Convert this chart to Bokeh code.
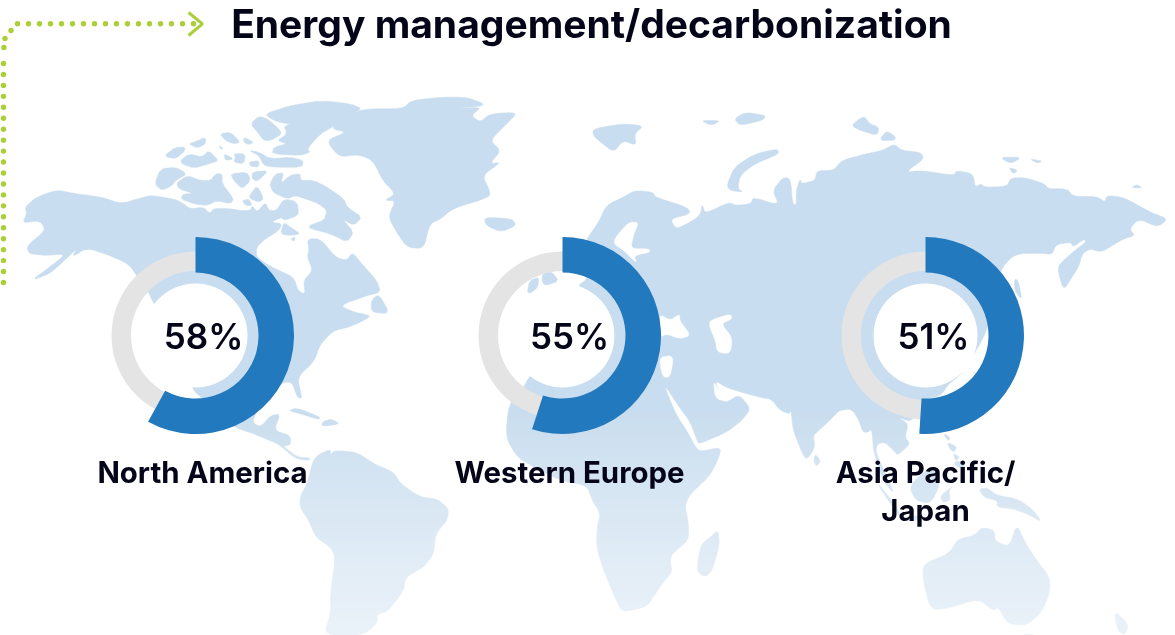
from bokeh.plotting import figure
from bokeh.models import Range1d
from bokeh.core.properties import value
from bokeh.embed import file_html
from bokeh.resources import INLINE
import numpy as np

# ---------- chart values ----------
TITLE = "Energy management/decarbonization"
regions = ["North America", "Western Europe", "Asia Pacific/\nJapan"]
percent = [58, 55, 51]
labels = ["58%", "55%", "51%"]
center_x = [195, 562, 925]
label_x = [202, 569, 925]
CY = 335
INK, BLUE, GREY, LAND, GREEN = "#05051a", "#2279bd", "#e4e4e4", "#c8ddef", "#abcf37"

def z1(pts): return [(x / 2.657, y / 3) for x, y in pts]
def z2(pts): return [(585 + x / 2.657, 90 + y / 3) for x, y in pts]
def z3(pts): return [(100 + x / 3, 320 + y / 3) for x, y in pts]
def z4(pts): return [(600 + x / 2.727, 380 + y / 3) for x, y in pts]
def z5(pts): return [(150 + x / 3, 95 + y / 3) for x, y in pts]
def z6(pts): return [(500 + x / 3, 180 + y / 3) for x, y in pts]
def z7(pts): return [(840 + x / 3, 400 + y / 3) for x, y in pts]

def soft(pts, n=2):
    """Round off the corners of a traced outline."""
    for _ in range(n):
        out = []
        for i, (a, b) in enumerate(pts):
            c, d = pts[(i + 1) % len(pts)]
            out += [(0.8 * a + 0.2 * c, 0.8 * b + 0.2 * d), (0.2 * a + 0.8 * c, 0.2 * b + 0.8 * d)]
        pts = out
    return pts

america = z1([(58,668),(70,640),(65,620),(95,590),(150,568),(190,578),(270,590),(320,610),(380,590),(400,585),(440,592)]) + z5([(75,312),(103,327),(118,340),(160,335),(178,355),(190,338),(240,340),(270,345),(300,345),(305,330),(320,350),(345,320),(355,345),(378,345),(400,310),(440,318),(445,360),(400,375),(395,365),(360,380),(395,385),(385,405),(345,430)]) + z1([(680,740),(680,770),(720,800),(780,830),(790,870),(810,882),(805,840),(830,810),(815,770),(820,745),(815,715),(850,715),(890,770),(920,780),(935,755),(960,790),(1000,840),(1010,875),(975,885),(900,915),(940,935),(985,945)]) + z3([(790,0),(745,20),(700,30),(660,70),(640,125),(590,170),(605,235),(590,230),(575,185),(545,185),(470,270),(455,305),(480,320),(510,285),(540,280),(520,330),(570,345),(570,375),(545,375),(590,410),(630,412),(625,420),(585,415),(540,375),(520,365),(460,340),(400,320),(350,270),(300,230),(275,205)]) + z1([(395,875),(365,830),(340,790),(290,765),(230,742),(190,770),(205,742),(165,785),(130,820),(82,840),(130,800),(175,760),(120,765),(75,760),(70,735),(120,690),(105,660)])

greenland = z1([(895,360),(960,325),(1070,325),(1090,300),(1170,290),(1240,290),(1295,315),(1200,325),(1280,320),(1250,345),(1275,365),(1300,340),(1375,335),(1345,370),(1300,420),(1330,450),(1300,490),(1330,485),(1280,525),(1300,570),(1300,590),(1200,625),(1170,655),(1140,670),(1125,745),(1080,740),(1055,700),(1030,650),(1050,600),(1020,600),(1050,580),(1015,540),(990,480),(950,462),(900,470),(865,420),(920,395),(880,385)])

iceland = z1([(1285,650),(1360,655),(1370,675),(1330,695),(1290,675)])
newfoundland = z1([(985,900),(1005,880),(1035,940),(985,935)])
arctic = [z5(p) for p in [
 [(12,265),(30,220),(75,215),(110,235),(75,255),(65,270),(35,285)],
 [(78,262),(110,240),(150,255),(180,255),(195,235),(215,235),(215,265),(250,310),(240,325),(200,315),(170,330),(130,325),(90,310),(100,295),(130,295),(85,280)],
 [(40,182),(75,155),(105,155),(100,170),(75,190)],
 [(90,195),(115,175),(155,185),(175,165),(205,195),(175,205),(130,218),(95,205)],
 [(130,140),(165,125),(165,145),(140,158),(115,145)],
 [(208,115),(240,110),(270,140),(250,145),(225,135)],
 [(280,125),(310,140),(295,148),(280,140)],
 [(205,150),(218,158),(212,162)],
 [(220,175),(250,190),(225,195)],
 [(250,175),(285,175),(280,205),(250,200),(255,185)],
 [(295,165),(325,170),(360,190),(420,185),(458,195),(455,215),(370,215),(340,210),(325,180)],
 [(295,200),(325,195),(325,215),(300,212)],
 [(240,235),(290,230),(300,255),(275,280),(250,255)],
 [(305,230),(355,225),(320,258),(305,250)],
 [(297,300),(320,270),(340,310),(325,320),(300,310)],
 [(275,315),(295,310),(305,330),(285,330)],
 [(300,85),(325,62),(350,70),(380,95),(395,115),(360,135),(340,135),(325,115)],
 [(342,55),(420,30),(515,15),(600,25),(635,40),(590,60),(545,95),(510,115),(470,160),(480,170),(450,180),(365,175),(370,155),(410,145),(380,135),(410,115),(400,90),(455,80),(430,85),(410,85),(370,75)],
 [(358,265),(375,235),(400,232),(390,265),(420,238),(450,235),(450,255),(490,255),(530,275),(580,310),(590,335),(635,365),(610,390),(575,370),(610,410),(590,440),(540,415),(480,400),(475,390),(520,375),(530,345),(505,325),(465,310),(435,300),(410,310),(375,295),(365,285)],
 [(390,415),(400,380),(420,395),(450,415),(420,420)],
 [(420,430),(435,425),(430,438)],
]]
uk = [z6(p) for p in [
 [(80,335),(88,300),(115,290),(112,320),(90,338)],
 [(125,285),(135,275),(155,275),(175,302),(135,315),(125,305)],
]]

eurasia_africa = z2([(0,450),(35,395),(55,345),(100,320),(130,300),(180,305),(185,320),(270,350),(280,370),(225,385),(240,415),(270,400),(305,375),(310,340),(318,370),(380,335),(400,345),(440,340),(445,320),(515,345),(497,300),(525,260),(545,265),(550,340),(560,345),(560,300),(570,265),(575,280),(610,270),(615,240),(660,240),(680,210),(745,190),(790,180),(820,160),(840,180),(890,185),(900,205),(850,245),(890,240),(980,255),(985,240),(1030,250),(1035,290),(1050,280),(1060,290),(1120,288),(1130,262),(1170,262),(1220,280),(1230,295),(1280,295),(1295,318),(1360,318),(1380,335),(1385,315),(1430,320),(1500,365),(1548,385),(1520,410),(1470,385),(1445,415),(1460,435),(1430,445),(1400,465),(1370,485),(1340,475),(1320,490),(1310,530),(1290,565),(1270,600),(1255,540),(1260,520),(1300,480),(1330,455),(1325,445),(1295,470),(1290,455),(1250,462),(1240,492),(1210,488),(1140,490),(1100,540),(1070,720),(1000,850),(965,880),(945,915)]) + z4([(875,60),(850,125),(810,110),(840,130),(830,170),(845,190),(810,225),(800,210),(775,185),(755,190),(750,215),(790,310),(800,340),(770,300),(745,215),(740,145),(730,155),(715,155),(705,120),(685,85),(650,90),(630,115),(590,155),(580,165),(585,200),(565,235),(555,230),(525,150),(520,90),(515,100),(490,90),(465,55),(440,52),(385,35),(345,22),(312,0),(325,40),(345,65),(378,42),(410,85),(385,120),(345,155),(270,190),(265,185),(245,125),(215,80),(170,5),(205,100),(235,150),(262,205),(275,212),(330,200),(320,240),(295,290),(245,340),(230,375),(240,430),(240,480),(195,520),(190,540),(195,575),(175,600),(150,640),(125,680),(60,695),(45,665),(10,575)]) + z3([(1488,680),(1490,620),(1500,580),(1475,540),(1460,495),(1380,480),(1300,440),(1250,410),(1215,350),(1225,250),(1270,200),(1285,170)]) + z6([(180,480),(232,315),(262,295),(255,230)])

others = [z2(p) for p in [
 [(20,115),(95,100),(155,105),(130,130),(135,165),(100,150),(75,185),(45,160),(20,135)],
 [(305,90),(360,90),(335,105)],
 [(395,85),(425,65),(480,75),(470,90),(410,105)],
 [(705,105),(740,75),(755,100),(780,110),(775,135),(730,120)],
 [(780,150),(800,120),(825,140),(820,150)],
 [(1100,200),(1160,200),(1130,220)],
 [(1180,205),(1215,212),(1200,218)],
 [(1125,230),(1150,240),(1135,250)],
 [(1450,292),(1465,282),(1480,292)],
 [(1140,565),(1150,570),(1160,630),(1140,600)],
 [(375,285),(395,230),(450,190),(510,175),(515,190),(450,220),(410,255),(405,295),(420,305),(385,300)],
]] + [z3(p) for p in [
 [(563,270),(590,262),(660,290),(655,297),(600,280)],
 [(665,305),(690,295),(720,310),(665,318)],
 [(600,525),(620,490),(640,410),(690,385),(690,405),(700,390),(770,395),(820,430),(880,455),(900,490),(960,530),(1010,535),(1045,565),(1040,600),(1005,640),(1000,700),(970,740),(915,770),(910,810),(860,875),(830,880),(830,910),(785,945),(670,945),(690,880),(690,820),(705,710),(690,680),(645,650),(625,600),(598,560)],
]] + [z4(p) for p in [
 [(320,448),(325,490),(305,570),(285,590),(265,575),(265,545),(275,490),(300,470)],
 [(585,220),(600,240),(590,258),(582,245)],
 [(880,550),(950,520),(975,475),(1020,465),(1040,440),(1075,450),(1075,480),(1115,500),(1135,430),(1160,490),(1190,540),(1225,590),(1225,640),(1200,700),(1160,735),(1110,730),(1085,680),(1070,690),(1030,655),(960,680),(900,690),(880,600)],
 [(1150,762),(1185,762),(1170,765)],
 [(1400,690),(1440,730),(1430,765),(1410,750)],
]] + [z7(p) for p in [
 [(308,98),(330,112),(322,122)],
 [(320,125),(350,140),(340,155),(328,145)],
 [(338,158),(358,170),(345,180)],
 [(345,180),(375,190),(368,205),(342,195)],
 [(205,255),(280,190),(300,250),(270,310),(225,300)],
 [(105,240),(170,320),(180,350),(150,310)],
 [(180,352),(240,345),(250,355),(195,362)],
 [(300,285),(340,255),(325,270),(330,300),(305,305)],
 [(415,265),(440,262),(470,285),(530,295),(575,325),(605,365),(570,345),(520,325),(470,320),(470,300),(430,290)],
]]

waters = [z2(p) for p in [
 [(195,670),(225,690),(250,670),(250,690),(280,735),(250,745),(215,730),(200,740)],
 [(330,690),(385,670),(390,685),(360,700),(390,740),(385,790),(350,785),(345,750),(330,710)],
 [(195,800),(235,795),(225,860),(205,860)],
 [(340,870),(355,905),(385,935),(345,925)],
]] + [z6([(345,170),(385,125),(415,125),(400,160),(390,205),(445,205),(450,215),(400,225),(410,250),(370,210),(340,190)]),
      z5([(480,340),(500,345),(490,355)])]

land = ([soft(s) for s in [america, greenland, eurasia_africa, iceland, newfoundland] + others]
        + [soft(s, 1) for s in arctic + uk])
waters = [soft(s) for s in waters]

# ---------- figure ----------
p = figure(width=1175, height=635, x_range=Range1d(0, 1175), y_range=Range1d(635, 0),
           output_backend="svg", toolbar_location=None, min_border=0,
           background_fill_color="white", border_fill_color="white", outline_line_color=None,
           styles={"position": "fixed", "left": "0", "top": "0"})
p.axis.visible = False
p.grid.visible = False

p.patches([[a for a, _ in s] for s in land], [[b for _, b in s] for s in land],
          fill_color=LAND, line_color=LAND, line_width=0.5)
p.patches([[a for a, _ in s] for s in waters], [[b for _, b in s] for s in waters],
          fill_color="white", line_color="white", line_width=0.5)

# fade of the map towards the bottom
fade_top = np.arange(400, 635, 1)
p.quad(left=0, right=1175, top=fade_top, bottom=fade_top + 1, fill_color="white",
       fill_alpha=(fade_top - 400) / 235 * 0.78, line_color=None)

# dotted connector
hx = np.arange(17, 194, 11.0)
vy = np.arange(63, 292, 10.95)
dx = list(hx) + [10.5, 4.5, 3.4] + [3.0] * len(vy)
dy = [23.3] * len(hx) + [30, 38, 47] + list(vy)
p.scatter(dx, dy, size=5.4, fill_color=GREEN, line_color=None)
p.line([188, 202, 188], [12, 23.3, 35], line_color=GREEN, line_width=3)

# donuts
p.annular_wedge(center_x, CY, inner_radius=64.5, outer_radius=84, start_angle=0, end_angle=2 * np.pi,
                fill_color=GREY, line_color=None)
p.circle(center_x, CY, radius=52, fill_color="white", line_color=None)
ends = [np.pi / 2 - v / 100 * 2 * np.pi for v in percent]
p.annular_wedge(center_x, CY, inner_radius=63, outer_radius=98.5, start_angle=np.pi / 2, end_angle=ends,
                direction="clock", fill_color=BLUE, line_color=None)

FONT = value("Inter")
p.text([591], [23], text=[TITLE], text_font=FONT, text_font_style="bold", text_font_size="39px",
       text_color=INK, text_align="center", text_baseline="middle")
p.text(center_x, [CY] * 3, x_offset=[8, 7, 8], text=labels, text_font=value("Inter SemiBold"), text_font_size="35px",
       text_color=INK, text_align="center", text_baseline="middle")
p.text(label_x, [469] * 3, text=regions, text_font=FONT, text_font_style="bold", text_font_size="29.4px",
       text_color=INK, text_align="center", text_baseline="top", y_offset=-15, text_line_height=1.09)

open("out.html", "w").write(file_html(p, INLINE))
